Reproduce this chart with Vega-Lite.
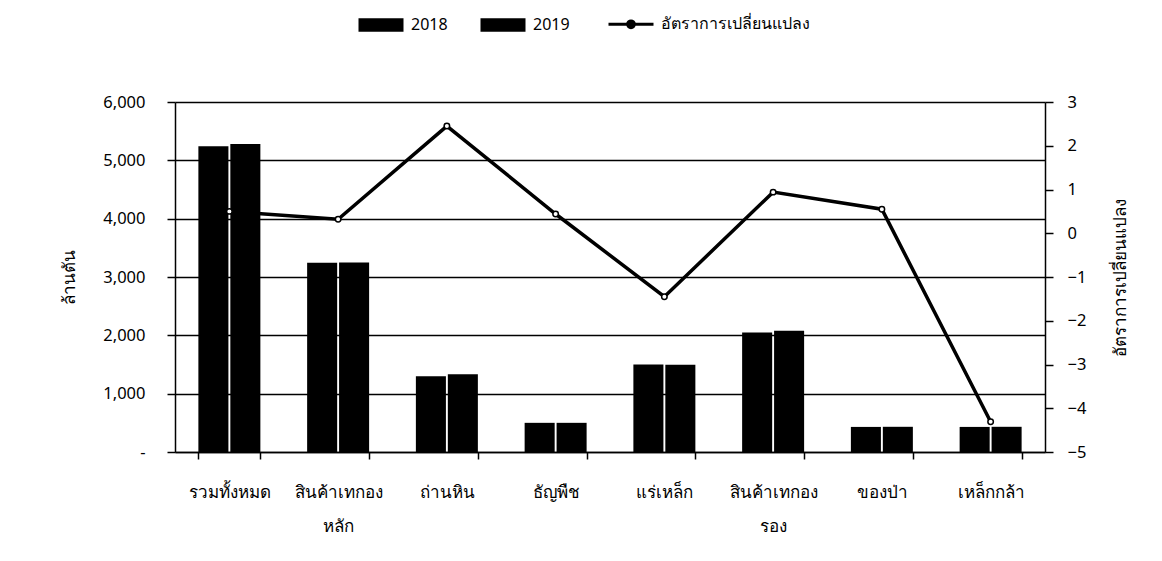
{
  "$schema": "https://vega.github.io/schema/vega-lite/v6.json",
  "autosize": {"type": "none"},
  "width": 870,
  "height": 350,
  "padding": {"left": 175, "top": 102, "right": 117, "bottom": 109},
  "background": "white",
  "config": {
    "font": "Tahoma, Noto Sans, DejaVu Sans, sans-serif",
    "view": {"stroke": null},
    "axis": {"labelColor": "black", "titleColor": "black", "domainColor": "black", "tickColor": "black", "labelFontSize": 16.5, "titleFontSize": 17, "titleFontWeight": "normal"}
  },
  "datasets": {
    "bars": [
      {"cat": "รวมทั้งหมด", "series": "2018", "value": 5240},
      {"cat": "รวมทั้งหมด", "series": "2019", "value": 5280},
      {"cat": "สินค้าเทกองหลัก", "series": "2018", "value": 3245},
      {"cat": "สินค้าเทกองหลัก", "series": "2019", "value": 3250},
      {"cat": "ถ่านหิน", "series": "2018", "value": 1300},
      {"cat": "ถ่านหิน", "series": "2019", "value": 1335},
      {"cat": "ธัญพืช", "series": "2018", "value": 500},
      {"cat": "ธัญพืช", "series": "2019", "value": 500},
      {"cat": "แร่เหล็ก", "series": "2018", "value": 1500},
      {"cat": "แร่เหล็ก", "series": "2019", "value": 1495},
      {"cat": "สินค้าเทกองรอง", "series": "2018", "value": 2050},
      {"cat": "สินค้าเทกองรอง", "series": "2019", "value": 2080},
      {"cat": "ของป่า", "series": "2018", "value": 430},
      {"cat": "ของป่า", "series": "2019", "value": 432},
      {"cat": "เหล็กกล้า", "series": "2018", "value": 430},
      {"cat": "เหล็กกล้า", "series": "2019", "value": 432}
    ],
    "rate": [
      {"cat": "รวมทั้งหมด", "rate": 0.5},
      {"cat": "สินค้าเทกองหลัก", "rate": 0.32},
      {"cat": "ถ่านหิน", "rate": 2.45},
      {"cat": "ธัญพืช", "rate": 0.44},
      {"cat": "แร่เหล็ก", "rate": -1.45},
      {"cat": "สินค้าเทกองรอง", "rate": 0.94},
      {"cat": "ของป่า", "rate": 0.55},
      {"cat": "เหล็กกล้า", "rate": -4.31}
    ]
  },
  "layer": [
    {
      "data": {"name": "bars"},
      "mark": {"type": "bar"},
      "encoding": {
        "x": {
          "field": "cat", "type": "nominal",
          "scale": {"domain": ["รวมทั้งหมด", "สินค้าเทกองหลัก", "ถ่านหิน", "ธัญพืช", "แร่เหล็ก", "สินค้าเทกองรอง", "ของป่า", "เหล็กกล้า"], "paddingInner": 0.43, "paddingOuter": 0.215},
          "axis": {
            "title": null, "labelAngle": 0, "tickBand": "extent", "tickSize": 7, "tickWidth": 1.5, "domainWidth": 1.5,
            "labelPadding": 33, "labelFontSize": 17, "labelLineHeight": 34, "labelBaseline": "middle",
            "labelExpr": "datum.label == 'สินค้าเทกองหลัก' ? ['สินค้าเทกอง', 'หลัก'] : datum.label == 'สินค้าเทกองรอง' ? ['สินค้าเทกอง', 'รอง'] : datum.label"
          }
        },
        "xOffset": {"field": "series", "type": "nominal", "scale": {"paddingInner": 0.06}},
        "y": {
          "field": "value", "type": "quantitative",
          "scale": {"domain": [0, 6000], "nice": false},
          "axis": {
            "title": "ล้านตัน", "values": [0, 1000, 2000, 3000, 4000, 5000, 6000],
            "labelExpr": "datum.value === 0 ? '-' : format(datum.value, ',')",
            "grid": true, "gridColor": "black", "gridWidth": 1.5, "gridOpacity": 1,
            "tickSize": 8, "tickWidth": 1.5, "domainWidth": 1.5, "labelPadding": 22, "titlePadding": 24
          }
        },
        "color": {
          "field": "series", "type": "nominal",
          "scale": {"domain": ["2018", "2019", "อัตราการเปลี่ยนแปลง"], "range": ["black", "black", "black"]},
          "legend": {
            "orient": "none", "legendX": 198, "legendY": -86, "direction": "horizontal", "title": null,
            "symbolSize": 2025, "labelFontSize": 16, "labelColor": "black", "columnPadding": 32, "labelOffset": 22,
            "encode": {
              "symbols": {
                "update": {
                  "shape": {"signal": "datum.value === 'อัตราการเปลี่ยนแปลง' ? 'M-1,0H-0.15M0.15,0H1M-0.15,0A0.15,0.15 0 1,0 0.15,0A0.15,0.15 0 1,0 -0.15,0' : 'M-1,-0.3H1V0.3H-1Z'"},
                  "fill": {"signal": "datum.value === 'อัตราการเปลี่ยนแปลง' ? 'white' : 'black'"},
                  "stroke": {"value": "black"},
                  "strokeWidth": {"signal": "datum.value === 'อัตราการเปลี่ยนแปลง' ? 3 : 0"},
                  "opacity": {"value": 1}
                }
              }
            }
          }
        }
      }
    },
    {
      "data": {"name": "rate"},
      "mark": {"type": "line", "strokeWidth": 3.5, "point": {"filled": false, "fill": "white", "size": 30, "strokeWidth": 1.5}},
      "encoding": {
        "x": {"field": "cat", "type": "nominal"},
        "y": {
          "field": "rate", "type": "quantitative",
          "scale": {"domain": [-5, 3], "nice": false},
          "axis": {
            "title": "อัตราการเปลี่ยนแปลง", "orient": "right", "values": [-5, -4, -3, -2, -1, 0, 1, 2, 3],
            "grid": false, "tickSize": 8, "tickWidth": 1.5, "domainWidth": 1.5, "labelPadding": 14,
            "titleAngle": 270, "titlePadding": 44
          }
        },
        "color": {"datum": "อัตราการเปลี่ยนแปลง"}
      }
    }
  ],
  "resolve": {"scale": {"y": "independent"}}
}
